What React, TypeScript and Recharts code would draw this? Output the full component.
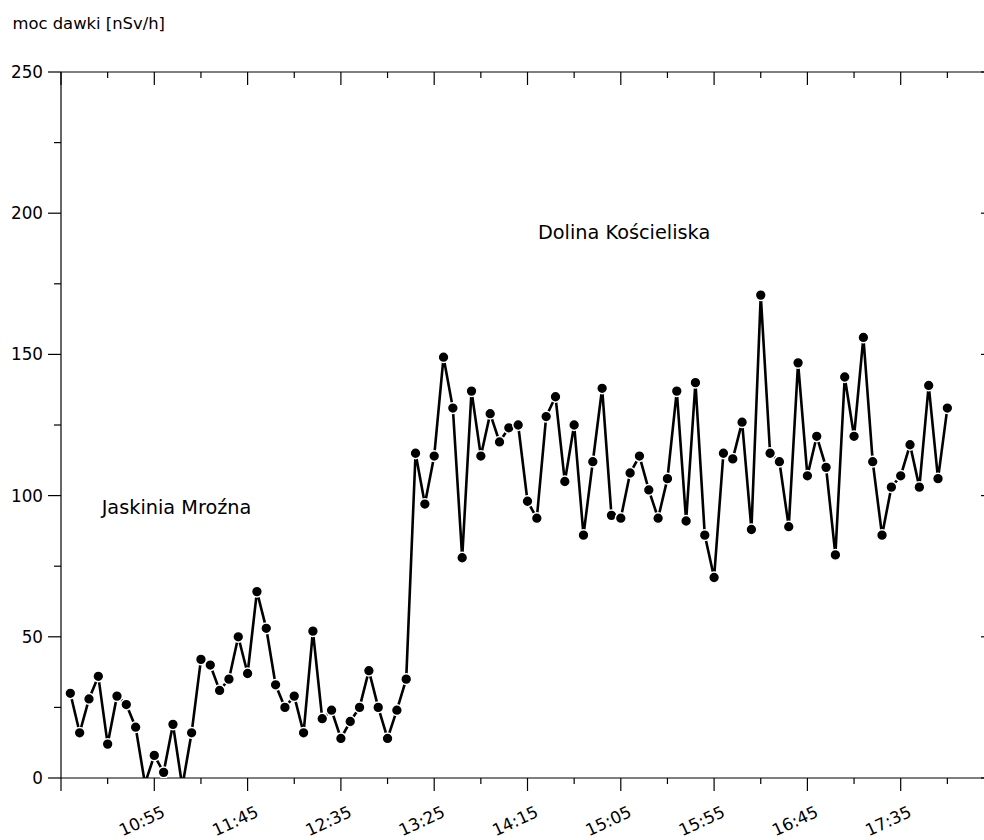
import React from 'react'
import {
  LineChart,
  Line,
  XAxis,
  YAxis,
  ReferenceDot,
  Customized
} from 'recharts'

// pomiary co 5 minut
const times = [
  '10:10', '10:15', '10:20', '10:25', '10:30', '10:35', '10:40', '10:45', '10:50', '10:55',
  '11:00', '11:05', '11:10', '11:15', '11:20', '11:25', '11:30', '11:35', '11:40', '11:45',
  '11:50', '11:55', '12:00', '12:05', '12:10', '12:15', '12:20', '12:25', '12:30', '12:35',
  '12:40', '12:45', '12:50', '12:55', '13:00', '13:05', '13:10', '13:15', '13:20', '13:25',
  '13:30', '13:35', '13:40', '13:45', '13:50', '13:55', '14:00', '14:05', '14:10', '14:15',
  '14:20', '14:25', '14:30', '14:35', '14:40', '14:45', '14:50', '14:55', '15:00', '15:05',
  '15:10', '15:15', '15:20', '15:25', '15:30', '15:35', '15:40', '15:45', '15:50', '15:55',
  '16:00', '16:05', '16:10', '16:15', '16:20', '16:25', '16:30', '16:35', '16:40', '16:45',
  '16:50', '16:55', '17:00', '17:05', '17:10', '17:15', '17:20', '17:25', '17:30', '17:35',
  '17:40', '17:45', '17:50', '17:55', '18:00'
]

const dose = [
  30, 16, 28, 36, 12, 29, 26, 18, -2, 8,
  2, 19, -3, 16, 42, 40, 31, 35, 50, 37,
  66, 53, 33, 25, 29, 16, 52, 21, 24, 14,
  20, 25, 38, 25, 14, 24, 35, 115, 97, 114,
  149, 131, 78, 137, 114, 129, 119, 124, 125, 98,
  92, 128, 135, 105, 125, 86, 112, 138, 93, 92,
  108, 114, 102, 92, 106, 137, 91, 140, 86, 71,
  115, 113, 126, 88, 171, 115, 112, 89, 147, 107,
  121, 110, 79, 142, 121, 156, 112, 86, 103, 107,
  118, 103, 139, 106, 131
]

const xTickTimes = [
  '10:05', '10:30', '10:55', '11:20', '11:45', '12:10', '12:35', '13:00', '13:25', '13:50',
  '14:15', '14:40', '15:05', '15:30', '15:55', '16:20', '16:45', '17:10', '17:35', '18:00', '18:25'
]
const xTickLabels = ['10:55', '11:45', '12:35', '13:25', '14:15', '15:05', '15:55', '16:45', '17:35']

const yTicks = [0, 25, 50, 75, 100, 125, 150, 175, 200, 225, 250]
const yTickLabels = [0, 50, 100, 150, 200, 250]

const yTitle = 'moc dawki [nSv/h]'
const caveLabel = 'Jaskinia Mroźna'
const valleyLabel = 'Dolina Kościeliska'

const FONT = '"DejaVu Sans", sans-serif'

const toMin = (s: string) => {
  const [h, m] = s.split(':').map(Number)
  return h * 60 + m
}
const toHHMM = (v: number) => {
  const h = Math.floor(v / 60)
  const m = v % 60
  return `${h}:${m < 10 ? '0' + m : m}`
}

const data = times.map((t, i) => ({ t: toMin(t), value: dose[i] }))
const xTicks = xTickTimes.map(toMin)
const X0 = xTicks[0]
const X1 = xTicks[xTicks.length - 1]
const isMajorX = (v: number) => (v - X0) % 50 === 0

const BottomTick = (props: any) => {
  const { x, y, payload } = props
  const label = toHHMM(payload.value)
  const show = xTickLabels.includes(label)
  const len = isMajorX(payload.value) ? 13 : 6
  const tx = x + 12
  const ty = y + 38
  return (
    <g>
      <line x1={x} y1={y} x2={x} y2={y + len} stroke="#000" strokeWidth={1.2} />
      {show && (
        <text
          x={tx}
          y={ty}
          textAnchor="end"
          transform={`rotate(-25 ${tx} ${ty})`}
          fontSize={16.8}
          fontFamily={FONT}
          fill="#000"
        >
          {label}
        </text>
      )}
    </g>
  )
}

const TopTick = (props: any) => {
  const { x, y, payload } = props
  const len = isMajorX(payload.value) ? 13 : 6
  return <line x1={x} y1={y} x2={x} y2={y + len} stroke="#000" strokeWidth={1.2} />
}

const LeftTick = (props: any) => {
  const { x, y, payload } = props
  const major = yTickLabels.includes(payload.value)
  return (
    <g>
      <line x1={x - (major ? 13 : 7)} y1={y} x2={x} y2={y} stroke="#000" strokeWidth={1.2} />
      {major && (
        <text x={x - 18} y={y} dy="0.36em" textAnchor="end" fontSize={16.8} fontFamily={FONT} fill="#000">
          {payload.value}
        </text>
      )}
    </g>
  )
}

const RightTick = (props: any) => {
  const { x, y, payload } = props
  const major = yTickLabels.includes(payload.value)
  return <line x1={x - (major ? 13 : 7)} y1={y} x2={x} y2={y} stroke="#000" strokeWidth={1.2} />
}

const DoseDot = (props: any) => {
  const { cx, cy, value, index } = props
  if (value < 0) return <g key={`d${index}`} />
  return <circle key={`d${index}`} cx={cx} cy={cy} r={5.4} fill="#000" stroke="#fff" strokeWidth={1.5} />
}

const textLabel = (text: string) => (p: any) => (
  <text x={p.viewBox.x} y={p.viewBox.y} fontSize={19.3} fontFamily={FONT} fill="#000">
    {text}
  </text>
)

const axisLine = { stroke: '#000', strokeWidth: 1.2 }

export default function App() {
  return (
    <div style={{ position: 'fixed', left: 0, top: 0, width: 984, height: 840, overflow: 'hidden', background: '#fff' }}>
      <LineChart width={1000} height={840} data={data} margin={{ top: 71, right: 5, bottom: 61, left: 60 }}>
        <XAxis
          xAxisId="b"
          dataKey="t"
          type="number"
          domain={[X0, X1]}
          ticks={xTicks}
          interval={0}
          height={1}
          tickSize={0}
          tickMargin={0}
          tickLine={false}
          axisLine={axisLine}
          tick={BottomTick}
          allowDataOverflow
        />
        <XAxis
          xAxisId="t"
          orientation="top"
          dataKey="t"
          type="number"
          domain={[X0, X1]}
          ticks={xTicks}
          interval={0}
          height={1}
          tickSize={0}
          tickMargin={0}
          tickLine={false}
          axisLine={axisLine}
          tick={TopTick}
          allowDataOverflow
        />
        <YAxis
          yAxisId="l"
          type="number"
          domain={[0, 250]}
          ticks={yTicks}
          interval={0}
          width={1}
          tickSize={0}
          tickMargin={0}
          tickLine={false}
          axisLine={axisLine}
          tick={LeftTick}
          allowDataOverflow
        />
        <YAxis
          yAxisId="r"
          orientation="right"
          type="number"
          domain={[0, 250]}
          ticks={yTicks}
          interval={0}
          width={1}
          tickSize={0}
          tickMargin={0}
          tickLine={false}
          axisLine={axisLine}
          tick={RightTick}
          allowDataOverflow
        />
        <Line
          xAxisId="b"
          yAxisId="l"
          type="linear"
          dataKey="value"
          stroke="#000"
          strokeWidth={2.6}
          dot={DoseDot}
          activeDot={false}
          isAnimationActive={false}
        />
        <ReferenceDot
          xAxisId="b"
          yAxisId="l"
          x={626.8}
          y={93.5}
          r={0}
          fill="none"
          stroke="none"
          label={{ content: textLabel(caveLabel) }}
        />
        <ReferenceDot
          xAxisId="b"
          yAxisId="l"
          x={860.6}
          y={190.9}
          r={0}
          fill="none"
          stroke="none"
          label={{ content: textLabel(valleyLabel) }}
        />
        <Customized
          component={() => (
            <text x={12.5} y={29} fontSize={16.4} fontFamily={FONT} fill="#000">
              {yTitle}
            </text>
          )}
        />
      </LineChart>
    </div>
  )
}
